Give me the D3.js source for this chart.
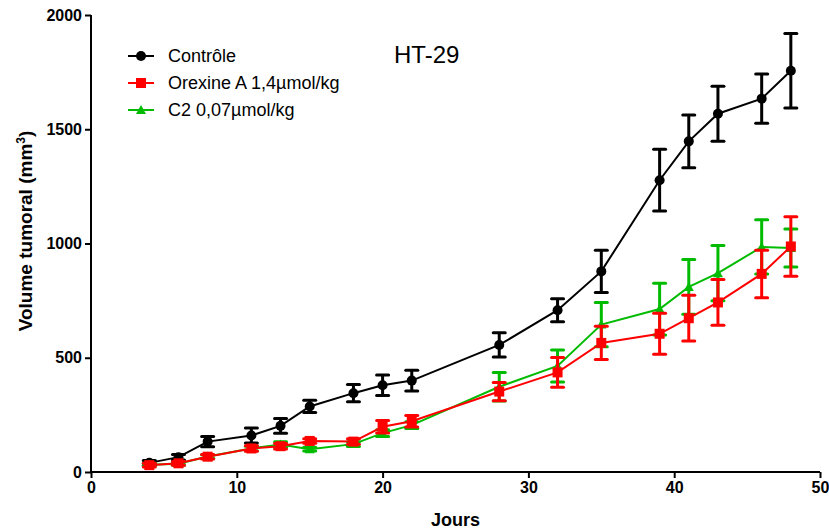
<!DOCTYPE html>
<html><head><meta charset="utf-8">
<script src="https://cdn.jsdelivr.net/npm/d3@7"></script>
<style>body{margin:0;background:#fff}svg{display:block}text{font-family:"Liberation Sans",Arial,sans-serif}</style>
</head><body><svg id="c" width="829" height="529"></svg>
<script>
const days = [4,6,8,11,13,15,18,20,22,28,32,35,39,41,43,46,48];
const control = [40,65,133,160,202,287,345,380,400,556,708,878,1277,1447,1568,1634,1756];
const controlErr = [10,12,22,33,32,27,38,45,45,53,50,92,135,115,120,108,163];
const orexin = [30,38,67,103,113,136,133,198,222,352,436,565,605,673,742,867,987];
const orexinErr = [8,8,10,12,12,10,12,27,25,40,65,73,90,100,100,104,130];
const c2 = [32,36,68,103,120,100,122,170,205,373,464,645,713,810,870,985,980];
const c2Err = [6,6,8,10,12,8,10,15,15,62,70,97,113,120,121,119,83];
const xTicks = [0,10,20,30,40,50];
const yTicks = [0,500,1000,1500,2000];
const seriesNames = ["Contrôle","Orexine A 1,4µmol/kg","C2 0,07µmol/kg"];

const svg = d3.select("#c");
const m = {l:91, r:9, t:15, b:57};
const W = 829, H = 529;
const x = d3.scaleLinear().domain([0,50]).range([m.l, W-m.r]);
const y = d3.scaleLinear().domain([0,2000]).range([H-m.b, m.t]);

const series = [
  {name:seriesNames[0], vals:control, err:controlErr, color:"#000000", sym:"circle"},
  {name:seriesNames[2], vals:c2, err:c2Err, color:"#00bb00", sym:"triangle"},
  {name:seriesNames[1], vals:orexin, err:orexinErr, color:"#ff0000", sym:"square"}
];

function drawSym(g, sym, cx, cy, color){
  if(sym==="circle") g.append("circle").attr("cx",cx).attr("cy",cy).attr("r",5).attr("fill",color);
  else if(sym==="square") g.append("rect").attr("x",cx-5).attr("y",cy-5).attr("width",10).attr("height",10).attr("fill",color);
  else g.append("path").attr("d",`M${cx},${cy-5}L${cx+5},${cy+4}L${cx-5},${cy+4}Z`).attr("fill",color);
}

// axes
const xAxis = d3.axisBottom(x).tickValues(xTicks).tickFormat(d3.format("d")).tickSize(6).tickPadding(4);
const gx = svg.append("g").attr("transform",`translate(0,${H-m.b})`).call(xAxis);
const yAxis = d3.axisLeft(y).tickValues(yTicks).tickFormat(d3.format("d")).tickSize(6).tickPadding(3);
const gy = svg.append("g").attr("transform",`translate(${m.l},0)`).call(yAxis);
[gx,gy].forEach(g=>{
  g.select(".domain").attr("stroke","#000").attr("stroke-width",2);
  g.selectAll(".tick line").attr("stroke","#000").attr("stroke-width",2);
  g.selectAll(".tick text").attr("fill","#000").style("font-size","16px").style("font-weight","bold").style("font-family","Liberation Sans, Arial, sans-serif");
});
gx.select(".domain").attr("d",`M${m.l},0H${W-m.r}`);
gy.select(".domain").attr("d",`M0,${y(2000)}V${y(0)}`);

// series
series.forEach(s=>{
  const g = svg.append("g");
  days.forEach((d,i)=>{
    const cx = x(d), lo = y(s.vals[i]-s.err[i]), hi = y(s.vals[i]+s.err[i]);
    g.append("line").attr("x1",cx).attr("x2",cx).attr("y1",lo).attr("y2",hi).attr("stroke",s.color).attr("stroke-width",3);
    [lo,hi].forEach(yy=>g.append("line").attr("x1",cx-6).attr("x2",cx+6).attr("y1",yy).attr("y2",yy).attr("stroke",s.color).attr("stroke-width",3).attr("stroke-linecap","round"));
  });
  const line = d3.line().x((d,i)=>x(d)).y((d,i)=>y(s.vals[i]));
  g.append("path").attr("d",line(days)).attr("fill","none").attr("stroke",s.color).attr("stroke-width",2);
  days.forEach((d,i)=>drawSym(g,s.sym,x(d),y(s.vals[i]),s.color));
});

// legend
const leg = [series[0],series[2],series[1]];
leg.forEach((s,i)=>{
  const yy = 56 + i*27;
  svg.append("line").attr("x1",128).attr("x2",154).attr("y1",yy).attr("y2",yy).attr("stroke",s.color).attr("stroke-width",2);
  drawSym(svg,s.sym,141,yy,s.color);
  svg.append("text").attr("x",168).attr("y",yy+6).text(s.name).style("font-size","18px").attr("fill","#000");
});

// title
svg.append("text").attr("x",394).attr("y",63).text("HT-29").style("font-size","24px").attr("fill","#000");

// axis labels
svg.append("text").attr("x",x(25)).attr("y",526).attr("text-anchor","middle").text("Jours").style("font-size","18px").style("font-weight","bold");
const yl = svg.append("text").attr("transform",`translate(32,${231}) rotate(-90)`).attr("text-anchor","middle").style("font-size","19px").style("font-weight","bold");
yl.append("tspan").text("Volume tumoral (mm");
yl.append("tspan").text("3").attr("baseline-shift","super").style("font-size","12px");
yl.append("tspan").text(")");
</script></body></html>
